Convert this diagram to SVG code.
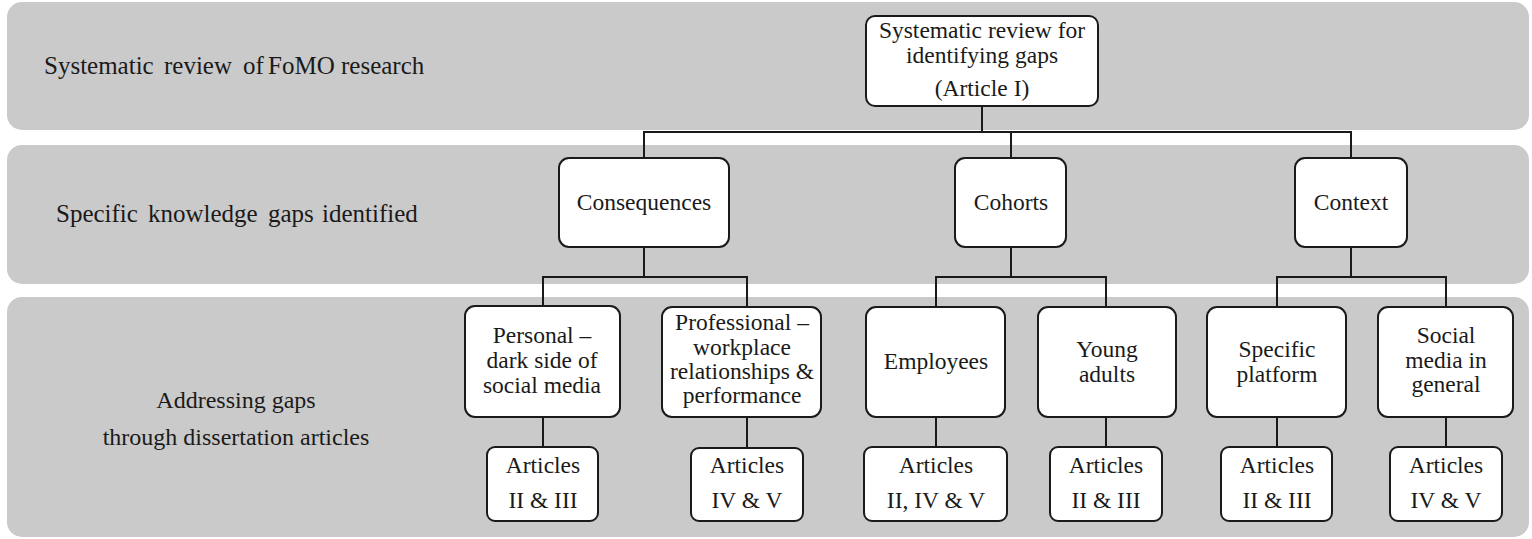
<svg xmlns="http://www.w3.org/2000/svg" width="1532" height="539" viewBox="0 0 1532 539">
  <style>
    .band { fill: #cacaca; }
    .box { fill: #ffffff; stroke: #1a1a1a; stroke-width: 2; }
    .lbl { font-family: "Liberation Serif", "Times New Roman", serif; font-size: 23.5px; fill: #1a1a1a; }
    .side { font-family: "Liberation Serif", "Times New Roman", serif; font-size: 24px; fill: #1a1a1a; }
    .big { font-size: 25px; }
    .mid { text-anchor: middle; }
    .wire { fill: none; stroke: #1a1a1a; stroke-width: 2; }
  </style>

  <!-- background bands -->
  <g id="bands">
    <rect class="band" x="7" y="2" width="1522" height="128" rx="15"/>
    <rect class="band" x="7" y="145" width="1522" height="139" rx="15"/>
    <rect class="band" x="7" y="297" width="1522" height="240" rx="15"/>
  </g>

  <!-- band labels -->
  <g id="band-labels">
    <text class="side big" y="74"><tspan x="44">Systematic</tspan><tspan x="164">review</tspan><tspan x="243">of</tspan><tspan x="268">FoMO</tspan><tspan x="341">research</tspan></text>
    <text class="side big" y="222"><tspan x="56">Specific</tspan><tspan x="148">knowledge</tspan><tspan x="268">gaps</tspan><tspan x="322">identified</tspan></text>
    <text class="side mid" x="236" y="408">Addressing gaps</text>
    <text class="side mid" x="236" y="445">through dissertation articles</text>
  </g>

  <!-- connectors -->
  <g id="connectors">
    <polyline class="wire" points="982,106 982,132"/>
    <polyline class="wire" points="644,158 644,132 1351,132 1351,158"/>
    <polyline class="wire" points="1011,132 1011,158"/>

    <polyline class="wire" points="644,247 644,277"/>
    <polyline class="wire" points="543,307 543,277 747,277 747,307"/>
    <polyline class="wire" points="1011,247 1011,277"/>
    <polyline class="wire" points="936,307 936,277 1106,277 1106,307"/>
    <polyline class="wire" points="1351,247 1351,277"/>
    <polyline class="wire" points="1277,307 1277,277 1446,277 1446,307"/>

    <line class="wire" x1="543" y1="417" x2="543" y2="447"/>
    <line class="wire" x1="747" y1="417" x2="747" y2="447"/>
    <line class="wire" x1="936" y1="417" x2="936" y2="447"/>
    <line class="wire" x1="1106" y1="417" x2="1106" y2="447"/>
    <line class="wire" x1="1277" y1="417" x2="1277" y2="447"/>
    <line class="wire" x1="1446" y1="417" x2="1446" y2="447"/>
  </g>

  <!-- root -->
  <g id="review">
    <rect class="box" x="866" y="16" width="232" height="90" rx="9"/>
    <text class="lbl mid" x="982" y="38">Systematic review for</text>
    <text class="lbl mid" x="982" y="63">identifying gaps</text>
    <text class="lbl mid" x="982" y="96">(Article I)</text>
  </g>

  <!-- gap categories -->
  <g id="consequences">
    <rect class="box" x="559" y="158" width="170" height="89" rx="10"/>
    <text class="lbl mid" x="644" y="210">Consequences</text>
  </g>
  <g id="cohorts">
    <rect class="box" x="955" y="158" width="111" height="89" rx="10"/>
    <text class="lbl mid" x="1011" y="210">Cohorts</text>
  </g>
  <g id="context">
    <rect class="box" x="1295" y="158" width="112" height="89" rx="10"/>
    <text class="lbl mid" x="1351" y="210">Context</text>
  </g>

  <!-- sub-topics -->
  <g id="personal">
    <rect class="box" x="465" y="306" width="155" height="111" rx="10"/>
    <text class="lbl mid" x="542" y="343">Personal –</text>
    <text class="lbl mid" x="542" y="368">dark side of</text>
    <text class="lbl mid" x="542" y="393">social media</text>
  </g>
  <g id="professional">
    <rect class="box" x="662" y="307" width="159" height="110" rx="10"/>
    <text class="lbl mid" x="742" y="330">Professional –</text>
    <text class="lbl mid" x="742" y="355">workplace</text>
    <text class="lbl mid" x="742" y="379">relationships &amp;</text>
    <text class="lbl mid" x="742" y="403">performance</text>
  </g>
  <g id="employees">
    <rect class="box" x="866" y="307" width="139" height="110" rx="10"/>
    <text class="lbl mid" x="936" y="369">Employees</text>
  </g>
  <g id="young-adults">
    <rect class="box" x="1038" y="307" width="138" height="110" rx="10"/>
    <text class="lbl mid" x="1107" y="357">Young</text>
    <text class="lbl mid" x="1107" y="382">adults</text>
  </g>
  <g id="specific-platform">
    <rect class="box" x="1207" y="307" width="139" height="110" rx="10"/>
    <text class="lbl mid" x="1277" y="357">Specific</text>
    <text class="lbl mid" x="1277" y="382">platform</text>
  </g>
  <g id="social-media-general">
    <rect class="box" x="1378" y="307" width="135" height="110" rx="10"/>
    <text class="lbl mid" x="1446" y="343">Social</text>
    <text class="lbl mid" x="1446" y="368">media in</text>
    <text class="lbl mid" x="1446" y="392">general</text>
  </g>

  <!-- article references -->
  <g id="articles-personal">
    <rect class="box" x="487" y="447" width="111" height="74" rx="8"/>
    <text class="lbl mid" x="543" y="473">Articles</text>
    <text class="lbl mid" x="543" y="508">II &amp; III</text>
  </g>
  <g id="articles-professional">
    <rect class="box" x="691" y="448" width="112" height="73" rx="8"/>
    <text class="lbl mid" x="747" y="473">Articles</text>
    <text class="lbl mid" x="747" y="508">IV &amp; V</text>
  </g>
  <g id="articles-employees">
    <rect class="box" x="864" y="447" width="143" height="74" rx="8"/>
    <text class="lbl mid" x="936" y="473">Articles</text>
    <text class="lbl mid" x="936" y="508">II, IV &amp; V</text>
  </g>
  <g id="articles-young-adults">
    <rect class="box" x="1050" y="447" width="112" height="74" rx="8"/>
    <text class="lbl mid" x="1106" y="473">Articles</text>
    <text class="lbl mid" x="1106" y="508">II &amp; III</text>
  </g>
  <g id="articles-specific-platform">
    <rect class="box" x="1221" y="447" width="111" height="74" rx="8"/>
    <text class="lbl mid" x="1277" y="473">Articles</text>
    <text class="lbl mid" x="1277" y="508">II &amp; III</text>
  </g>
  <g id="articles-social-media-general">
    <rect class="box" x="1390" y="447" width="112" height="74" rx="8"/>
    <text class="lbl mid" x="1446" y="473">Articles</text>
    <text class="lbl mid" x="1446" y="508">IV &amp; V</text>
  </g>
</svg>
